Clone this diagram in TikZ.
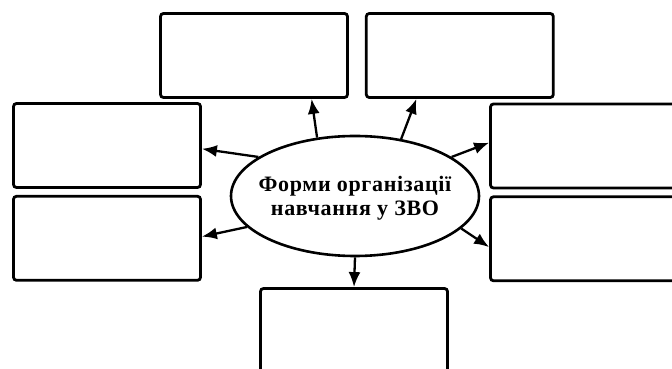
\documentclass[tikz,border=0pt]{standalone}
\usepackage{fontspec}
\setmainfont{Liberation Serif}
\newfontfamily\formfont[LetterSpace=3]{Liberation Serif}
\usetikzlibrary{arrows.meta,positioning,shapes.geometric}

\begin{document}
\begin{tikzpicture}[x=1pt,y=1pt,line width=2.3pt,node distance=6pt,
    link/.style={-{Latex[length=15pt,width=12pt]}},
    box/.style={draw,rounded corners=3pt,line width=2.8pt,minimum width=187pt,minimum height=84pt,inner sep=0pt},
    form/.style={draw,ellipse,line width=2.6pt,minimum width=248pt,minimum height=120pt,inner sep=0pt},
    formtext/.style={align=center,inner sep=0pt,font=\formfont\bfseries\fontsize{22}{24}\selectfont}]

            \useasboundingbox (0,0) rectangle (672,369);

            \node[form] (forms) at (355,173) {};

            \node[formtext] (formlabel) at (355,171) {Форми організації\\навчання у ЗВО};

            \node[box] (topl) at (254,313.5) {};

            \node[box] (topr) [right=16pt of topl] {};

            \node[box] (leftu) at (107,223.5) {};

            \node[box] (leftl) [below=of leftu] {};

            \node[box] (rightu) at (584,223) {};

            \node[box] (rightl) [below=of rightu] {};

            \node[box] (bottom) at (354,38.5) {};

            

            \path[link] (forms.123) edge (topl.-37)

                      (forms.51) edge (topr.-135)

                      (forms.158) edge (leftu.-2)

                      (forms.22) edge (rightu.178)

                      (forms.-164) edge (leftl.1)

                      (forms.-17) edge (rightl.185)

                      (forms.south) edge (bottom.north);

        \end{tikzpicture}
\end{document}
